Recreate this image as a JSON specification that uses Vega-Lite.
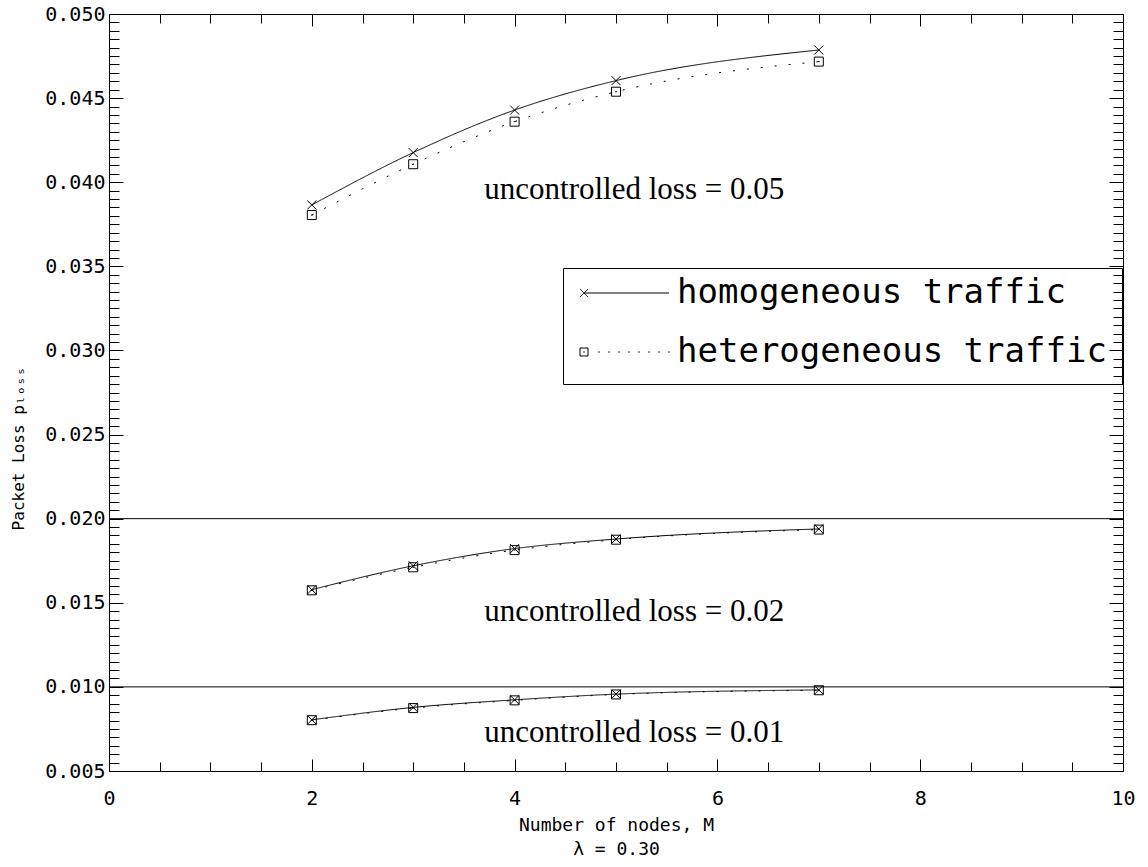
{
  "$schema": "https://vega.github.io/schema/vega-lite/v6.json",
  "width": 1014,
  "height": 757,
  "autosize": {"type": "none"},
  "padding": {"left": 109, "top": 14, "right": 25, "bottom": 96},
  "background": "white",
  "config": {
    "view": {"stroke": "black", "strokeWidth": 1},
    "axis": {
      "domain": false,
      "grid": false,
      "tickColor": "black",
      "tickWidth": 1,
      "labelColor": "black",
      "titleColor": "black",
      "labelFont": "DejaVu Sans Mono",
      "titleFont": "DejaVu Sans Mono",
      "titleFontWeight": "normal",
      "labelFontSize": 20,
      "labelFlush": false,
      "labelOverlap": false
    },
    "legend": {
      "orient": "none",
      "padding": 8,
      "symbolSize": 64,
      "symbolStrokeWidth": 1,
      "symbolStrokeColor": "black",
      "symbolFillColor": "transparent",
      "symbolOffset": -11,
      "labelFont": "DejaVu Sans Mono",
      "labelFontSize": 34,
      "labelColor": "black",
      "labelOffset": 76,
      "labelLimit": 0
    }
  },
  "datasets": {
    "curves": [
      {"M": 2, "loss": 0.03865, "series": "homogeneous traffic", "level": "0.05"},
      {"M": 3, "loss": 0.04176, "series": "homogeneous traffic", "level": "0.05"},
      {"M": 4, "loss": 0.04429, "series": "homogeneous traffic", "level": "0.05"},
      {"M": 5, "loss": 0.04604, "series": "homogeneous traffic", "level": "0.05"},
      {"M": 7, "loss": 0.04786, "series": "homogeneous traffic", "level": "0.05"},
      {"M": 2, "loss": 0.03805, "series": "heterogeneous traffic", "level": "0.05"},
      {"M": 3, "loss": 0.04107, "series": "heterogeneous traffic", "level": "0.05"},
      {"M": 4, "loss": 0.04360, "series": "heterogeneous traffic", "level": "0.05"},
      {"M": 5, "loss": 0.04538, "series": "heterogeneous traffic", "level": "0.05"},
      {"M": 7, "loss": 0.04717, "series": "heterogeneous traffic", "level": "0.05"},
      {"M": 2, "loss": 0.01578, "series": "homogeneous traffic", "level": "0.02"},
      {"M": 3, "loss": 0.01720, "series": "homogeneous traffic", "level": "0.02"},
      {"M": 4, "loss": 0.01822, "series": "homogeneous traffic", "level": "0.02"},
      {"M": 5, "loss": 0.01879, "series": "homogeneous traffic", "level": "0.02"},
      {"M": 7, "loss": 0.01939, "series": "homogeneous traffic", "level": "0.02"},
      {"M": 2, "loss": 0.01574, "series": "heterogeneous traffic", "level": "0.02"},
      {"M": 3, "loss": 0.01711, "series": "heterogeneous traffic", "level": "0.02"},
      {"M": 4, "loss": 0.01813, "series": "heterogeneous traffic", "level": "0.02"},
      {"M": 5, "loss": 0.01875, "series": "heterogeneous traffic", "level": "0.02"},
      {"M": 7, "loss": 0.01935, "series": "heterogeneous traffic", "level": "0.02"},
      {"M": 2, "loss": 0.00804, "series": "homogeneous traffic", "level": "0.01"},
      {"M": 3, "loss": 0.00878, "series": "homogeneous traffic", "level": "0.01"},
      {"M": 4, "loss": 0.00923, "series": "homogeneous traffic", "level": "0.01"},
      {"M": 5, "loss": 0.00957, "series": "homogeneous traffic", "level": "0.01"},
      {"M": 7, "loss": 0.00982, "series": "homogeneous traffic", "level": "0.01"},
      {"M": 2, "loss": 0.00802, "series": "heterogeneous traffic", "level": "0.01"},
      {"M": 3, "loss": 0.00874, "series": "heterogeneous traffic", "level": "0.01"},
      {"M": 4, "loss": 0.00920, "series": "heterogeneous traffic", "level": "0.01"},
      {"M": 5, "loss": 0.00955, "series": "heterogeneous traffic", "level": "0.01"},
      {"M": 7, "loss": 0.00980, "series": "heterogeneous traffic", "level": "0.01"}
    ],
    "levels": [{"level": 0.01}, {"level": 0.02}],
    "notes": [
      {"label": "uncontrolled loss = 0.05", "nx": 5.18, "ny": 0.03954},
      {"label": "uncontrolled loss = 0.02", "nx": 5.18, "ny": 0.01445},
      {"label": "uncontrolled loss = 0.01", "nx": 5.18, "ny": 0.00726}
    ]
  },
  "layer": [
    {
      "data": {"name": "curves"},
      "mark": {"type": "line", "interpolate": "monotone", "color": "black", "strokeWidth": 1},
      "encoding": {
        "x": {
          "field": "M", "type": "quantitative",
          "scale": {"domain": [0, 10], "nice": false, "zero": false},
          "axis": {
            "orient": "bottom", "values": [0, 2, 4, 6, 8, 10], "tickSize": -12,
            "labelPadding": 29, "format": "d",
            "title": ["Number of nodes, M", "λ = 0.30"],
            "titleFontSize": 18, "titleLineHeight": 24,
            "titleY": 54, "titleBaseline": "middle"
          }
        },
        "y": {
          "field": "loss", "type": "quantitative",
          "scale": {"domain": [0.005, 0.05], "nice": false, "zero": false},
          "axis": {
            "orient": "left",
            "values": [0.005, 0.01, 0.015, 0.02, 0.025, 0.03, 0.035, 0.04, 0.045, 0.05],
            "tickSize": -14, "labelPadding": 18, "format": ".3f",
            "title": "Packet Loss pₗₒₛₛ", "titleFontSize": 16, "titleAngle": 270,
            "titleX": -91, "titleY": 434, "titleAlign": "center", "titleBaseline": "middle"
          }
        },
        "strokeDash": {
          "field": "series", "type": "nominal",
          "scale": {"domain": ["homogeneous traffic", "heterogeneous traffic"], "range": [[1, 0], [2, 12]]},
          "legend": {
            "values": ["homogeneous traffic"],
            "title": null,
            "legendX": 461,
            "legendY": 254,
            "symbolType": "M-1,-1L1,1M-1,1L1,-1M0,0L21.25,0"
          }
        },
        "opacity": {
          "field": "series", "type": "nominal",
          "scale": {"domain": ["heterogeneous traffic", "homogeneous traffic"], "range": [1, 1]},
          "legend": {
            "values": ["heterogeneous traffic"],
            "title": " ",
            "titleOrient": "top",
            "titleFontSize": 13,
            "titlePadding": 39,
            "padding": 15,
            "strokeColor": "black",
            "legendX": 454,
            "legendY": 254,
            "symbolType": "M-1,-1L1,-1L1,1L-1,1ZM-0.2,0L0.2,0M3.55,0L3.95,0M6.05,0L6.45,0M8.55,0L8.95,0M11.05,0L11.45,0M13.55,0L13.95,0M16.05,0L16.45,0M18.55,0L18.95,0M21.05,0L21.45,0"
          }
        },
        "detail": {"field": "level"}
      }
    },
    {
      "data": {"name": "curves"},
      "mark": {"type": "point", "filled": false, "stroke": "black", "strokeWidth": 1, "size": 81, "opacity": 1},
      "encoding": {
        "x": {
          "field": "M", "type": "quantitative",
          "scale": {"domain": [0, 10], "nice": false, "zero": false},
          "axis": {"orient": "top", "values": [0, 2, 4, 6, 8, 10], "tickSize": -12, "labels": false, "title": null}
        },
        "y": {
          "field": "loss", "type": "quantitative",
          "scale": {"domain": [0.005, 0.05], "nice": false, "zero": false},
          "axis": {"orient": "right", "values": [0.005, 0.01, 0.015, 0.02, 0.025, 0.03, 0.035, 0.04, 0.045, 0.05], "tickSize": -14, "labels": false, "title": null}
        },
        "shape": {
          "condition": {"test": "datum.series === 'homogeneous traffic'", "value": "M-1,-1L1,1M-1,1L1,-1"},
          "value": "M-1,-1L1,-1L1,1L-1,1ZM-0.2,0L0.2,0"
        }
      }
    },
    {
      "data": {"name": "levels"},
      "mark": {"type": "rule", "color": "black", "strokeWidth": 1},
      "encoding": {
        "x": {
          "datum": 0, "type": "quantitative",
          "scale": {"domain": [0, 10], "nice": false, "zero": false},
          "axis": {"orient": "bottom", "values": [0.5, 1, 1.5, 2.5, 3, 3.5, 4.5, 5, 5.5, 6.5, 7, 7.5, 8.5, 9, 9.5], "tickSize": -9, "labels": false, "title": null}
        },
        "x2": {"datum": 10},
        "y": {
          "field": "level", "type": "quantitative",
          "scale": {"domain": [0.005, 0.05], "nice": false, "zero": false},
          "axis": {"orient": "left", "values": [0.0055,0.006,0.0065,0.007,0.0075,0.008,0.0085,0.009,0.0095,0.0105,0.011,0.0115,0.012,0.0125,0.013,0.0135,0.014,0.0145,0.0155,0.016,0.0165,0.017,0.0175,0.018,0.0185,0.019,0.0195,0.0205,0.021,0.0215,0.022,0.0225,0.023,0.0235,0.024,0.0245,0.0255,0.026,0.0265,0.027,0.0275,0.028,0.0285,0.029,0.0295,0.0305,0.031,0.0315,0.032,0.0325,0.033,0.0335,0.034,0.0345,0.0355,0.036,0.0365,0.037,0.0375,0.038,0.0385,0.039,0.0395,0.0405,0.041,0.0415,0.042,0.0425,0.043,0.0435,0.044,0.0445,0.0455,0.046,0.0465,0.047,0.0475,0.048,0.0485,0.049,0.0495], "tickSize": -10, "labels": false, "title": null}
        }
      }
    },
    {
      "data": {"name": "notes"},
      "mark": {"type": "text", "font": "Liberation Serif", "fontSize": 31, "color": "black", "align": "center", "baseline": "middle"},
      "encoding": {
        "text": {"field": "label"},
        "x": {
          "field": "nx", "type": "quantitative",
          "scale": {"domain": [0, 10], "nice": false, "zero": false},
          "axis": {"orient": "top", "values": [0.5, 1, 1.5, 2.5, 3, 3.5, 4.5, 5, 5.5, 6.5, 7, 7.5, 8.5, 9, 9.5], "tickSize": -9, "labels": false, "title": null}
        },
        "y": {
          "field": "ny", "type": "quantitative",
          "scale": {"domain": [0.005, 0.05], "nice": false, "zero": false},
          "axis": {"orient": "right", "values": [0.0055,0.006,0.0065,0.007,0.0075,0.008,0.0085,0.009,0.0095,0.0105,0.011,0.0115,0.012,0.0125,0.013,0.0135,0.014,0.0145,0.0155,0.016,0.0165,0.017,0.0175,0.018,0.0185,0.019,0.0195,0.0205,0.021,0.0215,0.022,0.0225,0.023,0.0235,0.024,0.0245,0.0255,0.026,0.0265,0.027,0.0275,0.028,0.0285,0.029,0.0295,0.0305,0.031,0.0315,0.032,0.0325,0.033,0.0335,0.034,0.0345,0.0355,0.036,0.0365,0.037,0.0375,0.038,0.0385,0.039,0.0395,0.0405,0.041,0.0415,0.042,0.0425,0.043,0.0435,0.044,0.0445,0.0455,0.046,0.0465,0.047,0.0475,0.048,0.0485,0.049,0.0495], "tickSize": -10, "labels": false, "title": null}
        }
      }
    }
  ],
  "resolve": {"axis": {"x": "independent", "y": "independent"}}
}
